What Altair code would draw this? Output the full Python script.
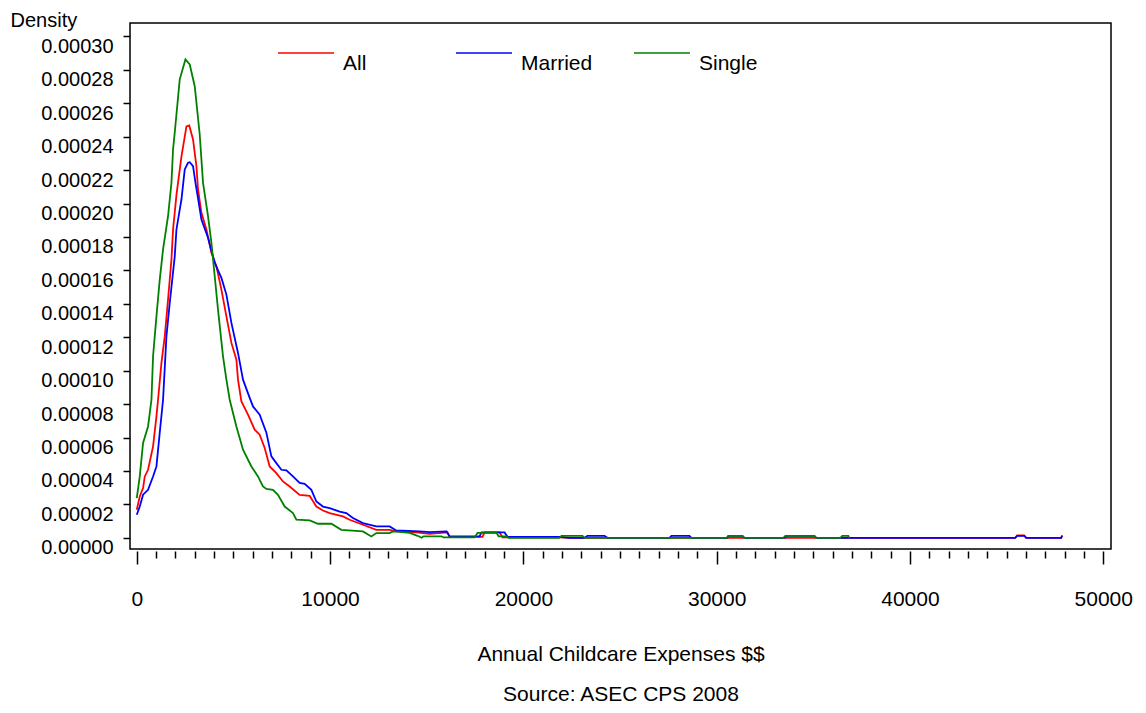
import altair as alt
import pandas as pd

FONT = "Liberation Sans"

series_names = ["All", "Married", "Single"]
series_colors = ["#FF0000", "#0000FF", "#008000"]

# ---- All (red) ----
x_all = [0, 155, 326, 414, 584, 843, 1018, 1101, 1277, 1448, 1618, 1794, 1877, 2052, 2311,
         2570, 2714, 2911, 3086, 3169, 3345, 3603, 3862, 4120, 4379, 4637, 4896, 5154, 5237,
         5413, 5754, 6101, 6359, 6618, 6876, 7222, 7564, 7910, 8427, 8944, 9291, 9632, 9978,
         10666, 11012, 11700, 12393, 13080, 13426, 14461, 15148, 16079, 16182, 17888, 17992,
         18767, 18922, 21869, 22386, 45444, 45548, 45910, 46013, 47823, 47874]
y_all = [1.68e-5, 2.47e-5, 2.98e-5, 3.67e-5, 4.07e-5, 5.47e-5, 7.26e-5, 8.26e-5, 10.46e-5,
         12.05e-5, 14.25e-5, 16.65e-5, 18.44e-5, 20.5e-5, 22.81e-5, 24.61e-5, 24.67e-5,
         23.83e-5, 22.23e-5, 20.84e-5, 19.44e-5, 18.44e-5, 17.05e-5, 16.25e-5, 14.85e-5,
         13.25e-5, 11.66e-5, 10.66e-5, 9.46e-5, 8.16e-5, 7.37e-5, 6.47e-5, 6.17e-5, 5.37e-5,
         4.27e-5, 3.87e-5, 3.37e-5, 3.07e-5, 2.57e-5, 2.51e-5, 1.87e-5, 1.63e-5, 1.48e-5,
         1.28e-5, 1.08e-5, 0.78e-5, 0.48e-5, 0.48e-5, 0.38e-5, 0.32e-5, 0.24e-5, 0.32e-5,
         0.06e-5, 0.06e-5, 0.32e-5, 0.32e-5, 0.03e-5, 0.03e-5, 0.0, 0.0, 0.15e-5, 0.15e-5,
         0.0, 0.0, 0.15e-5]

# ---- Married (blue) ----
x_married = [0, 155, 326, 584, 843, 1018, 1189, 1360, 1535, 1706, 1965, 2052, 2223, 2311, 2482,
             2652, 2740, 2911, 3050, 3180, 3345, 3686, 4033, 4379, 4637, 4896, 5237, 5496, 5842,
             6013, 6359, 6705, 6964, 7222, 7481, 7740, 8081, 8427, 8686, 9032, 9291, 9632, 9978,
             10495, 10842, 11183, 11700, 12393, 13080, 13426, 14631, 15148, 16027, 16182, 17733,
             17836, 19026, 19181, 21869, 22386, 23162, 23317, 24196, 24351, 27556, 27660, 28590,
             28694, 30555, 30607, 31330, 31434, 33502, 33605, 35053, 35156, 45444, 45548, 45910,
             46013, 47823, 47874]
y_married = [1.38e-5, 1.87e-5, 2.58e-5, 2.87e-5, 3.67e-5, 4.27e-5, 6.29e-5, 8.26e-5, 12.05e-5,
             14.05e-5, 16.84e-5, 18.44e-5, 19.64e-5, 20.24e-5, 22.04e-5, 22.44e-5, 22.47e-5,
             22.23e-5, 21.14e-5, 20.24e-5, 19.04e-5, 17.95e-5, 16.45e-5, 15.55e-5, 14.55e-5,
             12.86e-5, 11.06e-5, 9.46e-5, 8.37e-5, 7.86e-5, 7.37e-5, 6.29e-5, 4.87e-5, 4.47e-5,
             4.07e-5, 4.03e-5, 3.67e-5, 3.28e-5, 3.23e-5, 2.87e-5, 2.17e-5, 1.87e-5, 1.78e-5,
             1.57e-5, 1.48e-5, 1.18e-5, 0.88e-5, 0.68e-5, 0.68e-5, 0.44e-5, 0.38e-5, 0.34e-5,
             0.38e-5, 0.08e-5, 0.08e-5, 0.32e-5, 0.32e-5, 0.06e-5, 0.06e-5, 0.0, 0.0, 0.12e-5,
             0.12e-5, 0.0, 0.0, 0.12e-5, 0.12e-5, 0.0, 0.0, 0.12e-5, 0.12e-5, 0.0, 0.0, 0.12e-5,
             0.12e-5, 0.0, 0.0, 0.12e-5, 0.12e-5, 0.0, 0.0, 0.12e-5]

# ---- Single (green) ----
x_single = [0, 155, 326, 584, 760, 843, 1018, 1189, 1360, 1618, 1706, 1794, 1877, 1965, 2223,
            2518, 2740, 2999, 3257, 3428, 3686, 3862, 4033, 4203, 4462, 4637, 4808, 5154, 5496,
            5930, 6271, 6530, 6706, 7047, 7305, 7652, 8081, 8256, 8944, 9373, 10066, 10583,
            11700, 12134, 12393, 13080, 13251, 13597, 14114, 14528, 14735, 14838, 15769, 15872,
            17475, 17630, 18612, 18715, 19129, 19232, 21869, 21973, 23058, 23162, 30503, 30607,
            31330, 31434, 33450, 33553, 35053, 35156, 36397, 36500, 36810, 36861]
y_single = [2.38e-5, 3.67e-5, 5.67e-5, 6.66e-5, 8.26e-5, 10.86e-5, 13.25e-5, 15.45e-5, 17.25e-5,
            19.24e-5, 20.24e-5, 21.24e-5, 23.23e-5, 24.25e-5, 27.43e-5, 28.62e-5, 28.32e-5,
            27.02e-5, 24.13e-5, 21.24e-5, 19.24e-5, 17.65e-5, 15.65e-5, 13.65e-5, 10.86e-5,
            9.46e-5, 8.26e-5, 6.66e-5, 5.27e-5, 4.27e-5, 3.67e-5, 3.07e-5, 2.92e-5, 2.87e-5,
            2.57e-5, 1.87e-5, 1.48e-5, 1.08e-5, 1.04e-5, 0.84e-5, 0.84e-5, 0.48e-5, 0.38e-5,
            0.08e-5, 0.28e-5, 0.28e-5, 0.38e-5, 0.36e-5, 0.30e-5, 0.12e-5, 0.0, 0.09e-5, 0.09e-5,
            0.02e-5, 0.02e-5, 0.30e-5, 0.30e-5, 0.09e-5, 0.09e-5, 0.0, 0.0, 0.12e-5, 0.12e-5,
            0.0, 0.0, 0.12e-5, 0.12e-5, 0.0, 0.0, 0.12e-5, 0.12e-5, 0.0, 0.0, 0.12e-5, 0.12e-5,
            0.0]

y_ticks = [0.0, 0.00002, 0.00004, 0.00006, 0.00008, 0.00010, 0.00012, 0.00014, 0.00016,
           0.00018, 0.00020, 0.00022, 0.00024, 0.00026, 0.00028, 0.00030]
x_ticks = list(range(0, 50001, 1000))

x_title = ["Annual Childcare Expenses $$", "Source: ASEC CPS 2008"]

rows = []
for name, xs, ys in zip(series_names, [x_all, x_married, x_single], [y_all, y_married, y_single]):
    for xv, yv in zip(xs, ys):
        rows.append({"expense": xv, "density": yv, "group": name})
df = pd.DataFrame(rows)

x_axis = alt.Axis(
    values=x_ticks, format="d",
    labelExpr="datum.value % 10000 === 0 ? datum.label : ''",
    labelOverlap=False, domain=False, grid=False,
    tickSize={"condition": {"test": "datum.value % 10000 === 0", "value": 13}, "value": 7},
    tickWidth=1.5, tickColor="black", offset=2, labelPadding=24,
    labelFontSize=21, labelFont=FONT, labelColor="black",
    title=x_title, titleFontSize=21, titleFont=FONT, titleFontWeight="normal",
    titleColor="black", titleLineHeight=40, titleBaseline="alphabetic", titleY=109,
)

y_axis = alt.Axis(
    values=y_ticks, format=".5f", domain=False, grid=False,
    tickSize=7, tickWidth=1.5, tickColor="black", labelPadding=10,
    labelFontSize=20, labelFont=FONT, labelColor="black", labelBaseline="top",
    title="Density", titleAngle=0, titleAlign="left", titleBaseline="alphabetic",
    titleX=-120, titleY=3, titleFontSize=20, titleFont=FONT, titleFontWeight="normal",
    titleColor="black",
)

legend = alt.Legend(
    orient="none", legendX=147, legendY=1, direction="horizontal", columns=3,
    gridAlign="all", columnPadding=38, symbolType="stroke", symbolSize=3136,
    symbolStrokeWidth=1.5, labelFontSize=21, labelFont=FONT, labelColor="black",
    labelBaseline="top", labelOffset=8, title=None, padding=0,
)

chart = alt.Chart(df).mark_line(strokeWidth=1.8).encode(
    x=alt.X("expense:Q", scale=alt.Scale(domain=[-350, 50400], nice=False, zero=False), axis=x_axis),
    y=alt.Y("density:Q", scale=alt.Scale(domain=[-0.0000067, 0.000308], nice=False, zero=False), axis=y_axis),
    color=alt.Color("group:N", scale=alt.Scale(domain=series_names, range=series_colors), legend=legend),
).properties(
    width=981, height=526,
    autosize=alt.AutoSizeParams(type="none"),
    padding={"left": 122, "top": 15, "right": 27, "bottom": 156},
).configure_view(stroke="black", strokeWidth=1.5)

chart.save("out.html", embed_options={"renderer": "svg", "actions": False})
